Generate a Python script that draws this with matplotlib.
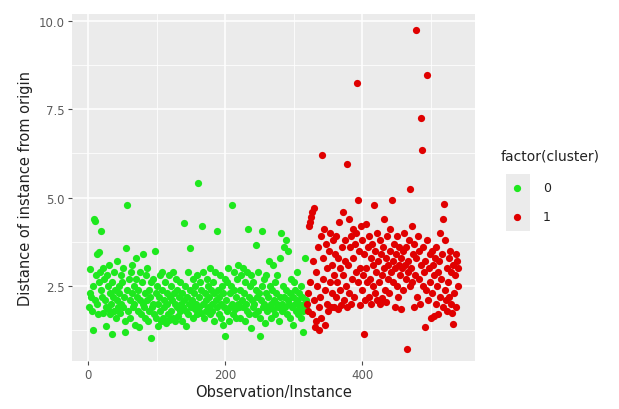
import matplotlib
matplotlib.use("Agg")
import matplotlib.pyplot as plt
from matplotlib.lines import Line2D
from matplotlib.patches import Rectangle
import numpy as np

# cluster 0 distances (observations 1..318)
green_y = [
    1.9, 2.3, 2.97, 2.2, 1.8, 1.27, 2.5, 4.4, 4.35, 2.1, 2.8, 3.4, 2.0, 1.7, 2.6, 3.45, 2.9, 2.4, 4.04, 2.2,
    3.0, 1.75, 2.7, 2.1, 1.9, 1.37, 2.8, 2.5, 1.85, 3.1, 2.3, 1.7, 2.0, 2.6, 1.15, 2.2, 1.8, 2.9, 2.4, 1.6,
    2.1, 3.2, 1.9, 2.5, 2.3, 1.75, 2.8, 2.0, 2.6, 1.9, 3.0, 2.2, 1.5, 1.2, 3.56, 4.79, 2.4, 1.8, 2.7, 2.1,
    1.6, 2.9, 2.3, 3.1, 1.9, 2.5, 2.0, 1.4, 2.7, 3.3, 2.2, 1.8, 2.4, 1.35, 2.1, 2.9, 1.7, 2.6, 3.4, 2.0,
    1.9, 2.3, 1.6, 2.8, 2.1, 3.0, 1.5, 2.4, 1.8, 2.2, 1.04, 2.6, 1.9, 2.0, 2.7, 1.7, 3.5, 2.3, 1.6, 2.5,
    2.0, 1.37, 2.2, 2.8, 1.8, 1.5, 2.4, 2.9, 1.6, 2.1, 1.9, 2.6, 1.45, 2.3, 2.0, 1.7, 2.8, 1.55, 2.2, 2.5,
    1.8, 2.1, 2.9, 1.6, 2.3, 1.5, 2.0, 2.7, 1.9, 2.4, 1.65, 2.2, 1.8, 2.6, 2.0, 1.5, 2.3, 1.9, 2.1, 4.28,
    2.5, 1.8, 1.37, 2.2, 2.9, 1.7, 2.0, 3.58, 2.4, 1.9, 2.1, 2.7, 1.6, 2.3, 1.85, 2.5, 2.0, 1.7, 2.8, 5.41,
    2.2, 1.9, 2.6, 1.75, 2.4, 4.2, 2.0, 2.9, 1.6, 2.3, 2.1, 1.8, 2.7, 2.5, 1.9, 2.2, 3.0, 1.7, 2.4, 2.0,
    1.8, 2.6, 2.3, 1.5, 2.9, 2.1, 4.06, 1.9, 2.4, 1.7, 2.2, 2.8, 1.6, 2.0, 2.5, 1.4, 2.3, 1.9, 2.7, 1.1,
    2.1, 1.8, 2.6, 3.0, 1.5, 2.3, 1.9, 2.5, 2.0, 4.79, 1.7, 2.4, 2.9, 1.85, 2.2, 1.6, 2.7, 2.0, 3.1, 1.9,
    2.4, 1.6, 2.8, 2.1, 1.9, 3.0, 2.3, 1.5, 2.6, 2.0, 1.8, 2.9, 4.1, 2.2, 1.7, 2.5, 1.3, 2.8, 2.1, 1.9,
    2.6, 2.0, 1.7, 2.4, 3.66, 2.2, 1.8, 2.9, 2.3, 1.6, 1.08, 2.1, 2.5, 4.06, 1.9, 2.7, 2.0, 1.45, 2.3, 2.8,
    1.8, 2.2, 3.2, 1.9, 2.5, 2.0, 1.6, 2.4, 3.1, 1.85, 2.1, 2.6, 1.7, 2.3, 2.0, 2.8, 1.9, 1.5, 3.3, 2.2,
    4.0, 2.0, 1.8, 2.5, 3.6, 2.2, 1.9, 3.8, 2.4, 1.7, 2.1, 3.5, 2.0, 1.6, 2.3, 2.7, 1.9, 2.2, 1.4, 2.6,
    2.0, 2.4, 1.8, 2.9, 2.1, 1.7, 2.3, 2.0, 1.9, 2.5, 1.6, 2.2, 1.8, 1.2, 2.0, 3.3, 1.9, 2.1,
]

# cluster 1 distances (observations 319..540)
red_y = [
    2.0, 1.8, 2.3, 4.2, 4.3, 2.6, 4.45, 1.7, 4.6, 3.2, 4.7, 2.1, 1.35, 2.9, 1.5, 2.5, 3.6, 1.9, 1.25, 2.2,
    3.9, 1.6, 6.21, 2.7, 3.3, 4.1, 1.4, 2.4, 3.7, 2.0, 3.0, 1.8, 3.5, 2.6, 4.0, 1.9, 3.1, 2.3, 3.8, 2.8,
    1.9, 3.4, 2.2, 3.9, 2.6, 1.85, 3.3, 4.3, 2.4, 3.0, 1.95, 3.6, 2.8, 4.6, 2.1, 3.2, 3.8, 2.5, 1.9, 5.94,
    3.1, 4.4, 2.3, 3.6, 2.0, 3.9, 2.7, 4.1, 3.3, 2.2, 3.7, 2.9, 4.0, 8.24, 4.93, 2.6, 3.5, 1.95, 3.0, 4.2,
    2.4, 3.8, 2.8, 1.13, 3.4, 2.1, 4.25, 3.0, 2.6, 3.6, 2.2, 3.9, 2.7, 3.3, 2.0, 3.7, 2.5, 3.1, 4.8, 2.3,
    3.5, 2.9, 4.0, 2.1, 3.2, 2.6, 3.8, 2.0, 3.4, 2.8, 2.15, 3.6, 3.0, 4.4, 2.4, 3.3, 2.05, 3.9, 2.7, 3.1,
    2.3, 3.5, 4.1, 2.9, 4.93, 3.2, 2.6, 3.7, 1.9, 3.0, 3.4, 2.5, 3.9, 2.2, 3.1, 3.6, 2.8, 3.3, 1.85, 3.0,
    3.5, 2.4, 4.0, 3.1, 2.7, 3.6, 0.71, 3.2, 2.9, 3.8, 2.5, 5.25, 3.0, 4.2, 2.6, 3.4, 1.9, 3.7, 2.8, 9.72,
    3.3, 2.2, 3.9, 2.7, 3.5, 2.0, 3.1, 7.25, 6.34, 2.5, 3.6, 2.9, 1.34, 3.2, 2.4, 8.45, 3.8, 2.1, 3.0, 3.4,
    2.6, 1.6, 3.5, 2.3, 3.1, 1.65, 2.8, 3.3, 2.0, 3.6, 2.5, 1.7, 2.9, 3.2, 2.2, 4.0, 2.7, 3.4, 1.9, 4.4,
    4.83, 2.4, 3.8, 2.1, 3.0, 1.8, 2.6, 3.3, 2.2, 3.5, 2.9, 2.0, 1.75, 1.44, 3.1, 2.3, 2.8, 3.4, 1.9, 3.2, 2.5, 3.0,
]

x_ticks = [0, 200, 400]
y_ticks = [2.5, 5.0, 7.5, 10.0]
y_tick_labels = ["2.5", "5.0", "7.5", "10.0"]
legend_labels = ["0", "1"]
colors = ["#1ee81e", "#e00000"]

green_x = np.arange(1, len(green_y) + 1)
red_x = np.arange(len(green_y) + 1, len(green_y) + len(red_y) + 1)

fig = plt.figure(figsize=(6.19, 4.10), dpi=100)
ax = fig.add_axes([0.1163, 0.117, 0.768 - 0.1163, 0.963 - 0.117])
ax.set_facecolor("#EBEBEB")
for s in ax.spines.values():
    s.set_visible(False)

ax.set_xlim(-24, 565)
ax.set_ylim(0.38, 10.18)
ax.set_xticks(x_ticks)
ax.set_xticks([100, 300, 500], minor=True)
ax.set_yticks(y_ticks)
ax.set_yticklabels(y_tick_labels)
ax.set_yticks([1.25, 3.75, 6.25, 8.75], minor=True)
ax.grid(which="major", color="white", linewidth=1.1)
ax.grid(which="minor", color="white", linewidth=0.55)
ax.set_axisbelow(True)
ax.tick_params(which="major", length=3, width=0.8, color="#4D4D4D",
               labelcolor="#5a5a5a", labelsize=8.5, pad=2)
ax.tick_params(which="minor", length=0)

ax.scatter(green_x, green_y, s=27, color=colors[0], linewidths=0, zorder=3)
ax.scatter(red_x, red_y, s=27, color=colors[1], linewidths=0, zorder=3)

ax.set_xlabel("Observation/Instance", fontsize=10.5, color="#222222", labelpad=2)
ax.set_ylabel("Distance of instance from origin", fontsize=10.5, color="#222222", labelpad=4)

# legend
fig.text(501 / 619, 1 - 157 / 410, "factor(cluster)", fontsize=10, color="#222222",
         ha="left", va="center")
fig.add_artist(Rectangle((506 / 619, 1 - 232 / 410), 24 / 619, 57 / 410,
                         transform=fig.transFigure, facecolor="#EBEBEB",
                         edgecolor="none"))
for i, lab in enumerate(legend_labels):
    yy = 1 - (189 + 29 * i) / 410
    fig.add_artist(Line2D([517 / 619], [yy], transform=fig.transFigure, marker="o",
                          markersize=4.2, color=colors[i], linestyle="none"))
    fig.text(543 / 619, yy, lab, fontsize=9, color="#222222", ha="left", va="center")

fig.savefig("out.png", dpi=100)
